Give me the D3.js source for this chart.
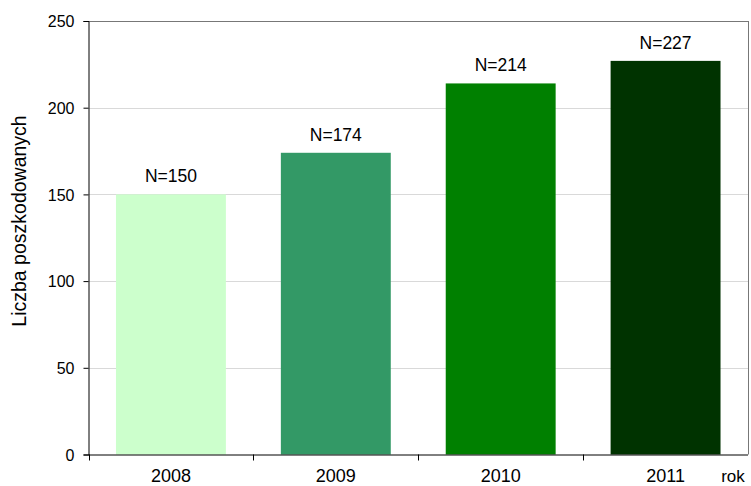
<!DOCTYPE html>
<html>
<head>
<meta charset="utf-8">
<script src="https://cdn.jsdelivr.net/npm/d3@7"></script>
<style>
  body { margin: 0; background: #fff; }
  svg { display: block; font-family: "Liberation Sans", Arial, sans-serif; }
</style>
</head>
<body>
<svg id="chart" width="751" height="486"></svg>
<script>
// Injured persons per year
const years = ["2008", "2009", "2010", "2011"];
const counts = [150, 174, 214, 227];
const barColors = ["#CCFFCC", "#339966", "#008000", "#003300"];
const yTicks = [0, 50, 100, 150, 200, 250];

const svg = d3.select("#chart");
const margin = { left: 88.5, right: 3, top: 21, bottom: 31.5 };
const W = 751, H = 486;
const x0 = margin.left, x1 = W - margin.right;
const y0 = H - margin.bottom, y1 = margin.top;

const x = d3.scaleBand().domain(years).range([x0, x1])
  .paddingInner(1 / 3).paddingOuter(1 / 6);
const y = d3.scaleLinear().domain([0, 250]).range([y0, y1]);

// gridlines
svg.append("g").selectAll("line").data(yTicks.filter(t => t > 0)).join("line")
  .attr("x1", x0).attr("x2", x1)
  .attr("y1", d => Math.round(y(d)) + 0.5).attr("y2", d => Math.round(y(d)) + 0.5)
  .attr("stroke", d => d === 250 ? "#777" : "#d9d9d9").attr("stroke-width", 1);

// right frame edge
svg.append("line").attr("x1", x1 + 0.5).attr("x2", x1 + 0.5)
  .attr("y1", y1).attr("y2", y0).attr("stroke", "#777");

// bars
svg.append("g").selectAll("rect").data(years).join("rect")
  .attr("x", d => x(d)).attr("width", x.bandwidth())
  .attr("y", (d, i) => y(counts[i]))
  .attr("height", (d, i) => y0 - y(counts[i]))
  .attr("fill", (d, i) => barColors[i]);

// value labels
svg.append("g").selectAll("text").data(years).join("text")
  .attr("x", d => x(d) + x.bandwidth() / 2)
  .attr("y", (d, i) => y(counts[i]) - 12)
  .attr("text-anchor", "middle").attr("font-size", 17.5).attr("fill", "#000")
  .text((d, i) => "N=" + counts[i]);

// y axis
const yAxis = d3.axisLeft(y).tickValues(yTicks).tickSize(5).tickPadding(9);
svg.append("g").attr("transform", `translate(${x0},0)`).call(yAxis)
  .call(g => g.select(".domain").attr("stroke", "#000"))
  .call(g => g.selectAll(".tick line").attr("stroke", "#000"))
  .call(g => g.selectAll("text").attr("font-size", 16).attr("dy", "0.36em")
    .attr("font-family", "Liberation Sans, Arial, sans-serif").attr("fill", "#000"));

// x axis with ticks at category boundaries
const bounds = d3.range(years.length + 1).map(i => x0 + i * (x1 - x0) / years.length);
const xg = svg.append("g");
xg.append("line").attr("x1", x0).attr("x2", x1).attr("y1", y0 + 0.5).attr("y2", y0 + 0.5).attr("stroke", "#000");
xg.selectAll("line.tk").data(bounds.slice(0, -1)).join("line").attr("class", "tk")
  .attr("x1", d => Math.round(d) + 0.5).attr("x2", d => Math.round(d) + 0.5)
  .attr("y1", y0).attr("y2", y0 + 6).attr("stroke", "#000");
xg.selectAll("text").data(years).join("text")
  .attr("x", d => x(d) + x.bandwidth() / 2).attr("y", y0 + 27)
  .attr("text-anchor", "middle").attr("font-size", 18).attr("fill", "#000")
  .text(d => d);

// axis titles
svg.append("text").attr("x", 733).attr("y", y0 + 27)
  .attr("text-anchor", "middle").attr("font-size", 17).attr("fill", "#000").text("rok");
svg.append("text")
  .attr("transform", `translate(26,221) rotate(-90)`)
  .attr("text-anchor", "middle").attr("font-size", 19.5).attr("fill", "#000")
  .text("Liczba poszkodowanych");
</script>
</body>
</html>
